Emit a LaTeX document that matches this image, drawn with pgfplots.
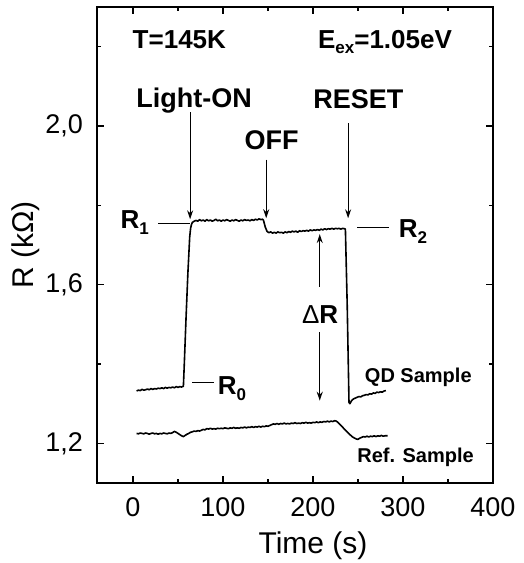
\documentclass[border=0pt]{standalone}
\usepackage{pgfplots}
\pgfplotsset{compat=1.18}
\usepackage{fontspec}
\setmainfont{Liberation Sans}
\usetikzlibrary{arrows.meta}
\newcommand{\fs}[1]{\fontsize{#1}{#1}\selectfont}
\newcommand{\sub}[2]{\raisebox{-#2}{\fontsize{17}{17}\selectfont #1}}
\begin{document}
\begin{tikzpicture}
\begin{axis}[
  at={(0,0)}, anchor=south west,
  scale only axis, width=396pt, height=476pt,
  xmin=-40, xmax=400, ymin=1.1, ymax=2.3,
  xtick={0,100,200,300,400}, minor xtick={50,150,250,350},
  ytick={1.2,1.6,2.0}, minor ytick={1.4,1.8,2.2},
  /pgf/number format/assume math mode=true,
  axis line style={line width=1.6pt},
  major tick length=7pt, minor tick length=4pt,
  every tick/.style={line width=1.4pt, black},
  yticklabel={\pgfmathprintnumber[fixed,fixed zerofill,precision=1,use comma]{\tick}},
  xticklabel style={font=\fs{27}, inner sep=0pt, yshift=-14pt},
  yticklabel style={font=\fs{27}, inner sep=0pt, xshift=-14pt},
  xlabel={Time (s)},
  xlabel style={font=\fs{30}, at={(axis description cs:0.5455,0)}, anchor=north, inner sep=0pt, yshift=-49pt},
  ylabel={R (kΩ)},
  ylabel style={font=\fs{30}, at={(axis description cs:-0.2146,0.5)}, anchor=north, inner sep=0pt},
]
\addplot[black, line width=1.6pt, line join=round] coordinates {
(4,1.332)(6,1.334)(8,1.333)(10,1.336)(12,1.334)(14,1.335)(16,1.337)(18,1.335)(20,1.338)(22,1.336)
(24,1.338)(26,1.337)(28,1.339)(30,1.338)(32,1.340)(34,1.338)(36,1.341)(38,1.339)(40,1.341)(42,1.340)
(44,1.342)(46,1.340)(48,1.343)(50,1.341)(52,1.343)(54,1.342)(56,1.344)(57,1.40)(59,1.52)(61,1.63)
(63,1.72)(64,1.742)(65,1.752)(66,1.757)(68,1.760)(70,1.762)(72,1.760)(74,1.764)(76,1.761)(78,1.763)
(80,1.760)(82,1.764)(84,1.761)(86,1.763)(88,1.760)(90,1.762)(92,1.765)(94,1.761)(96,1.763)(98,1.760)
(100,1.763)(102,1.761)(104,1.764)(106,1.762)(108,1.760)(110,1.763)(112,1.761)(114,1.764)(116,1.762)(118,1.760)
(120,1.763)(122,1.761)(124,1.764)(126,1.762)(128,1.763)(130,1.761)(132,1.764)(134,1.762)(136,1.765)(138,1.763)
(140,1.766)(142,1.764)(144,1.765)(145,1.762)(147,1.745)(149,1.734)(151,1.731)(153,1.733)(155,1.730)(157,1.732)
(159,1.730)(161,1.733)(163,1.731)(165,1.732)(167,1.730)(169,1.733)(171,1.731)(173,1.734)(175,1.732)(177,1.735)
(179,1.733)(181,1.735)(183,1.732)(185,1.736)(187,1.734)(189,1.736)(191,1.735)(193,1.737)(195,1.735)(197,1.738)
(199,1.736)(201,1.738)(203,1.737)(205,1.739)(207,1.737)(209,1.740)(211,1.738)(213,1.741)(215,1.739)(217,1.741)
(219,1.740)(221,1.742)(223,1.740)(225,1.742)(227,1.741)(229,1.742)(231,1.740)(233,1.742)(235,1.741)(236,1.740)
(238,1.55)(240,1.303)(241,1.300)(243,1.308)(245,1.312)(247,1.314)(249,1.316)(251,1.318)(253,1.317)(255,1.320)
(257,1.321)(259,1.323)(261,1.322)(263,1.325)(265,1.324)(267,1.327)(269,1.326)(271,1.329)(273,1.328)(275,1.330)
(277,1.329)(279,1.332)(281,1.333)
};
\addplot[black, line width=1.6pt, line join=round] coordinates {
(4,1.225)(6,1.224)(8,1.226)(10,1.225)(12,1.224)(14,1.226)(16,1.225)(18,1.223)(20,1.225)(22,1.226)
(24,1.224)(26,1.225)(28,1.223)(30,1.225)(32,1.224)(34,1.226)(36,1.225)(38,1.224)(40,1.226)(42,1.225)
(44,1.227)(46,1.230)(48,1.228)(50,1.225)(52,1.222)(54,1.219)(56,1.217)(58,1.220)(60,1.223)(62,1.225)
(64,1.228)(66,1.229)(68,1.231)(70,1.230)(72,1.232)(74,1.231)(76,1.233)(78,1.235)(80,1.234)(82,1.237)
(84,1.236)(86,1.238)(88,1.236)(90,1.237)(92,1.236)(94,1.238)(96,1.237)(98,1.238)(100,1.237)(102,1.239)
(104,1.238)(106,1.237)(108,1.239)(110,1.238)(112,1.240)(114,1.238)(116,1.239)(118,1.238)(120,1.240)(122,1.239)
(124,1.241)(126,1.239)(128,1.241)(130,1.240)(132,1.242)(134,1.240)(136,1.242)(138,1.241)(140,1.243)(142,1.241)
(144,1.243)(146,1.242)(148,1.244)(150,1.243)(152,1.245)(154,1.247)(156,1.249)(158,1.248)(160,1.250)(162,1.248)
(164,1.250)(166,1.249)(168,1.251)(170,1.249)(172,1.250)(174,1.249)(176,1.251)(178,1.250)(180,1.252)(182,1.250)
(184,1.251)(186,1.250)(188,1.252)(190,1.251)(192,1.253)(194,1.251)(196,1.252)(198,1.251)(200,1.253)(202,1.252)
(204,1.254)(206,1.252)(208,1.254)(210,1.253)(212,1.255)(214,1.254)(216,1.256)(218,1.254)(220,1.256)(222,1.255)
(224,1.257)(226,1.256)(228,1.252)(232,1.243)(236,1.233)(240,1.224)(244,1.216)(248,1.211)(250,1.210)(252,1.213)
(254,1.215)(256,1.217)(258,1.216)(260,1.218)(262,1.216)(264,1.218)(266,1.217)(268,1.219)(270,1.217)(272,1.219)
(274,1.218)(276,1.220)(278,1.218)(280,1.219)(283,1.219)
};
% annotations
\node[font=\bfseries\fs{26}, anchor=base, inner sep=0pt] at (axis cs:51.5,2.195) {T=145K};
\node[font=\bfseries\fs{26}, anchor=base, inner sep=0pt] at (axis cs:280,2.195) {E\sub{ex}{5pt}=1.05eV};
\node[font=\bfseries\fs{27}, anchor=base, inner sep=0pt] at (axis cs:68,2.0475) {Light-ON};
\node[font=\bfseries\fs{27}, anchor=base, inner sep=0pt] at (axis cs:250.5,2.045) {RESET};
\node[font=\bfseries\fs{27}, anchor=base, inner sep=0pt] at (axis cs:154,1.94) {OFF};
\node[font=\bfseries\fs{26}, anchor=base, inner sep=0pt] at (axis cs:2,1.7425) {R\sub{1}{6pt}};
\node[font=\bfseries\fs{26}, anchor=base, inner sep=0pt] at (axis cs:311,1.72) {R\sub{2}{6pt}};
\node[font=\bfseries\fs{26}, anchor=base, inner sep=0pt] at (axis cs:110,1.3225) {R\sub{0}{6pt}};
\node[font=\fs{26}, anchor=base, inner sep=0pt] at (axis cs:208,1.5025) {Δ\textbf{R}};
\node[font=\bfseries\fs{20}, anchor=base, inner sep=0pt] at (axis cs:317,1.3525) {QD Sample};
\node[font=\bfseries\fs{20}, anchor=base, inner sep=0pt] at (axis cs:314,1.1525) {Ref. Sample};
\draw[-{Stealth[length=9pt,width=6pt]}, line width=1.1pt] (axis cs:63.5,2.035) -- (axis cs:63.5,1.765);
\draw[-{Stealth[length=9pt,width=6pt]}, line width=1.1pt] (axis cs:148,1.915) -- (axis cs:148,1.7675);
\draw[-{Stealth[length=9pt,width=6pt]}, line width=1.1pt] (axis cs:239,2.0075) -- (axis cs:239,1.7675);
\draw[-{Stealth[length=9pt,width=6pt]}, line width=1.4pt] (axis cs:207.5,1.595) -- (axis cs:207.5,1.7275);
\draw[-{Stealth[length=9pt,width=6pt]}, line width=1.4pt] (axis cs:207.5,1.48) -- (axis cs:207.5,1.3075);
\draw[line width=1pt] (axis cs:28,1.755) -- (axis cs:63,1.755);
\draw[line width=1pt] (axis cs:249,1.745) -- (axis cs:284,1.745);
\draw[line width=1pt] (axis cs:66,1.3525) -- (axis cs:90,1.3525);
\end{axis}
\pgfresetboundingbox
\path (-97pt,-80pt) rectangle (426pt,483pt);
\end{tikzpicture}
\end{document}
